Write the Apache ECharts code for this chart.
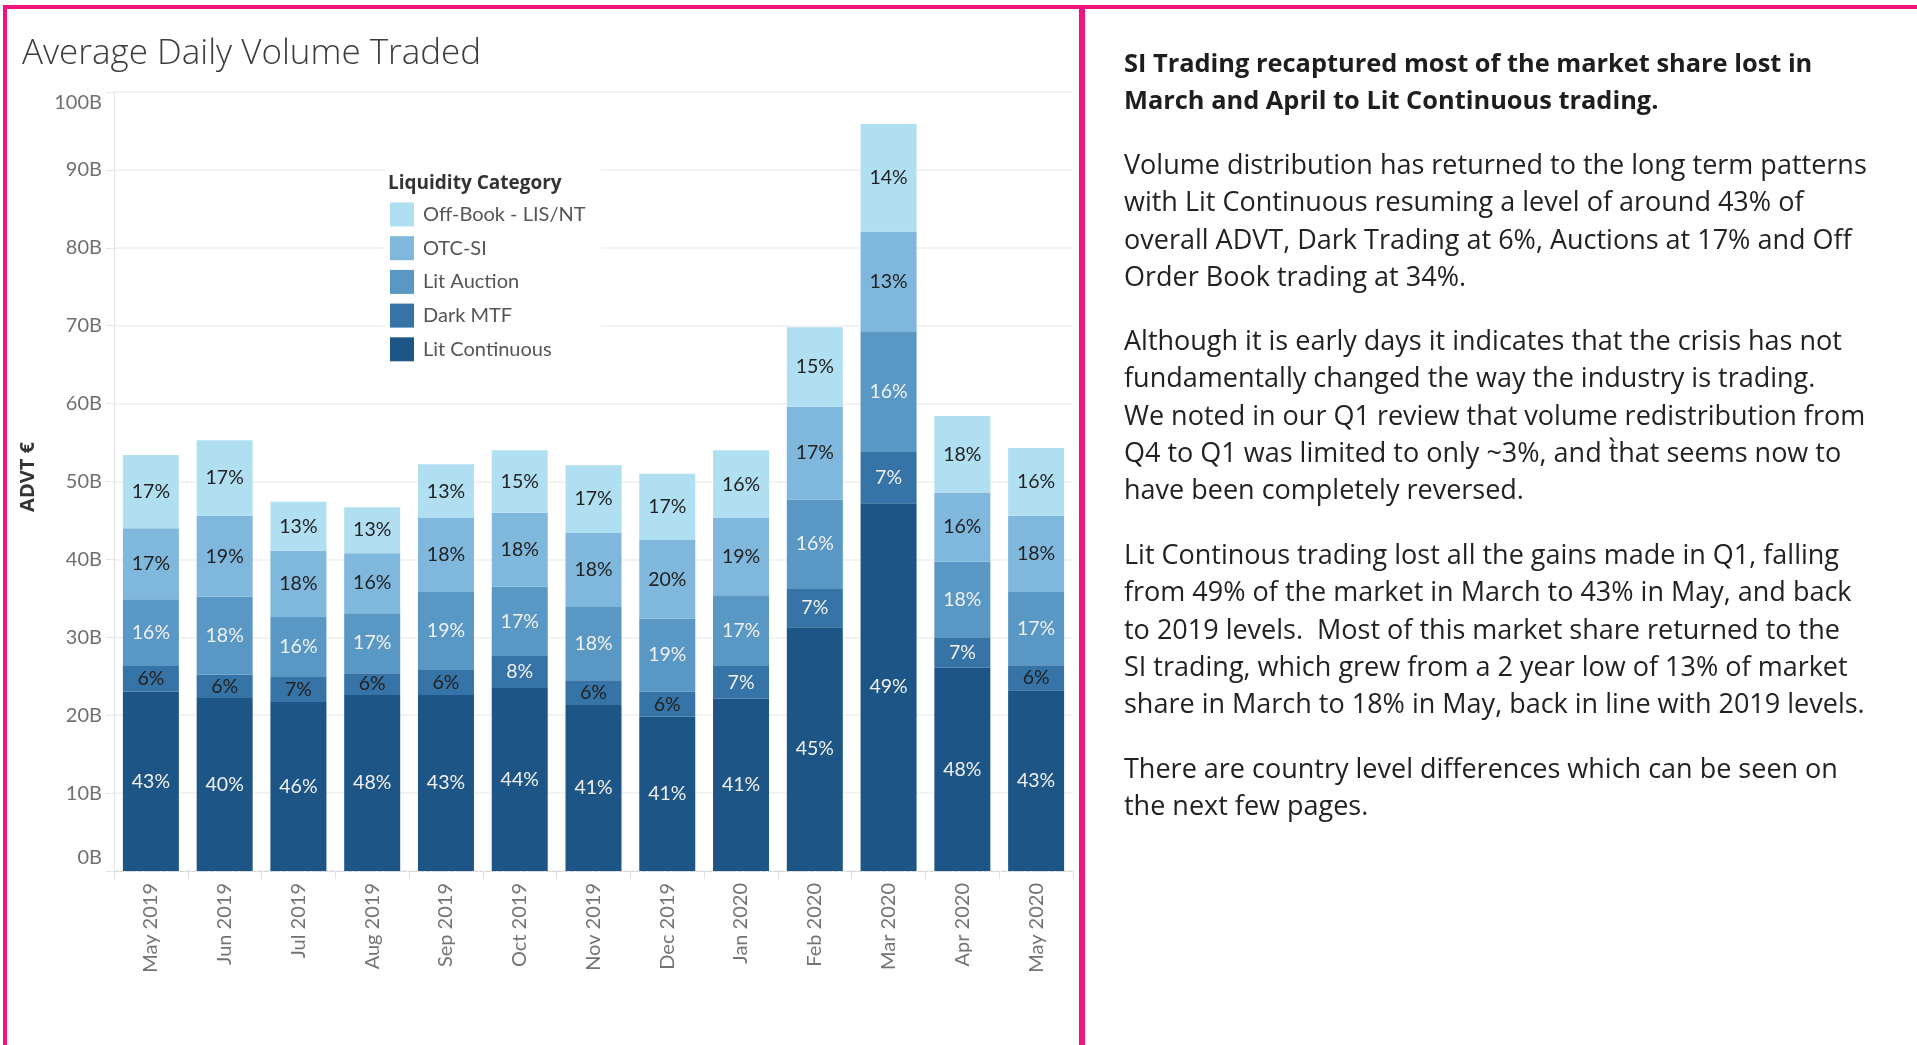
<!DOCTYPE html>
<html><head><meta charset="utf-8">
<script src="https://cdn.jsdelivr.net/npm/echarts@6/dist/echarts.min.js"></script>
<style>html,body{margin:0;padding:0;background:#fff;}#c{width:1917px;height:1045px;}</style>
</head><body><div id="c"></div>
<script>
// ---- data (values in billions EUR, percentages as labelled) ----
const months = ['May 2019','Jun 2019','Jul 2019','Aug 2019','Sep 2019','Oct 2019','Nov 2019','Dec 2019','Jan 2020','Feb 2020','Mar 2020','Apr 2020','May 2020'];
const litContinuous = [23.0, 22.2, 21.7, 22.6, 22.6, 23.5, 21.3, 19.8, 22.1, 31.3, 47.2, 26.1, 23.2];
const darkMTF       = [3.3, 3.0, 3.2, 2.8, 3.2, 4.1, 3.2, 3.2, 4.2, 4.9, 6.6, 3.9, 3.2];
const litAuction    = [8.6, 10.0, 7.7, 7.7, 10.0, 8.9, 9.4, 9.4, 9.1, 11.5, 15.5, 9.7, 9.4];
const otcSI         = [9.1, 10.4, 8.5, 7.7, 9.5, 9.5, 9.5, 10.1, 9.9, 11.9, 12.8, 8.9, 9.8];
const offBook       = [9.4, 9.7, 6.3, 5.9, 6.9, 8.0, 8.7, 8.5, 8.7, 10.2, 13.8, 9.8, 8.7];

const pctLitContinuous = [43, 40, 46, 48, 43, 44, 41, 41, 41, 45, 49, 48, 43];
const pctDarkMTF       = [6, 6, 7, 6, 6, 8, 6, 6, 7, 7, 7, 7, 6];
const pctLitAuction    = [16, 18, 16, 17, 19, 17, 18, 19, 17, 16, 16, 18, 17];
const pctOtcSI         = [17, 19, 18, 16, 18, 18, 18, 20, 19, 17, 13, 16, 18];
const pctOffBook       = [17, 17, 13, 13, 13, 15, 17, 17, 16, 15, 14, 18, 16];

const yTicks = [0, 10, 20, 30, 40, 50, 60, 70, 80, 90, 100];
const categoryNames = ['Lit Continuous', 'Dark MTF', 'Lit Auction', 'OTC-SI', 'Off-Book - LIS/NT'];

const chartTitle = 'Average Daily Volume Traded';
const yAxisTitle = 'ADVT \u20ac';
const legendTitle = 'Liquidity Category';
const heading = 'SI Trading recaptured most of the market share lost in\nMarch and April to Lit Continuous trading.';
const para1 = 'Volume distribution has returned to the long term patterns\nwith Lit Continuous resuming a level of around 43% of\noverall ADVT, Dark Trading at 6%, Auctions at 17% and Off\nOrder Book trading at 34%.';
const para2 = 'Although it is early days it indicates that the crisis has not\nfundamentally changed the way the industry is trading.\nWe noted in our Q1 review that volume redistribution from\nQ4 to Q1 was limited to only ~3%, and t\u0300hat seems now to\nhave been completely reversed.';
const para3 = 'Lit Continous trading lost all the gains made in Q1, falling\nfrom 49% of the market in March to 43% in May, and back\nto 2019 levels.  Most of this market share returned to the\nSI trading, which grew from a 2 year low of 13% of market\nshare in March to 18% in May, back in line with 2019 levels.';
const para4 = 'There are country level differences which can be seen on\nthe next few pages.';

// ---- styling ----
const FONT = 'Lato, "Noto Sans", sans-serif';
const WIDE = '"Open Sans", "Noto Sans", sans-serif';
const colors = ['#1d5686', '#3673a6', '#5997c5', '#7fb7dd', '#b1dff2'];
const PINK = '#f0147c';
const seriesValues = [litContinuous, darkMTF, litAuction, otcSI, offBook];
const seriesPcts = [pctLitContinuous, pctDarkMTF, pctLitAuction, pctOtcSI, pctOffBook];

function labelFormatter(si) {
  return function (p) {
    const pct = seriesPcts[si][p.dataIndex];
    let light;
    if (si === 0 || si === 2) light = true;
    else if (si === 1) light = p.value >= 3.5;
    else light = false;
    return '{' + (light ? 'w' : 'k') + '|' + pct + '%}';
  };
}

const series = categoryNames.map((name, si) => ({
  name: name,
  type: 'bar',
  stack: 'total',
  barWidth: 56,
  data: seriesValues[si],
  itemStyle: { color: colors[si] },
  emphasis: { disabled: true },
  label: {
    show: true,
    position: 'inside',
    formatter: labelFormatter(si),
    rich: {
      w: { color: '#f0f0f0', fontSize: 19.5, fontFamily: FONT },
      k: { color: '#222222', fontSize: 19.5, fontFamily: FONT }
    }
  }
}));

const bodyStyle = { fontFamily: WIDE, fontSize: 27, fill: '#222', lineHeight: 37.3 };

const chart = echarts.init(document.getElementById('c'), null, { renderer: 'canvas' });
chart.setOption({
  animation: false,
  backgroundColor: '#fff',
  title: {
    text: chartTitle, left: 17, top: 31.5,
    textStyle: { fontFamily: WIDE, fontWeight: 300, fontSize: 35, color: '#3c3c3c' }
  },
  grid: { left: 114, right: 844, top: 92, bottom: 174, outerBoundsMode: 'none', containLabel: false },
  legend: {
    data: categoryNames.slice().reverse(),
    orient: 'vertical', left: 390, top: 202.5, padding: 0,
    icon: 'rect', itemWidth: 24, itemHeight: 24, itemGap: 9.7,
    selectedMode: false, z: 5,
    textStyle: { fontFamily: FONT, fontSize: 20, color: '#555', lineHeight: 24, padding: [0, 0, 0, 4] }
  },
  xAxis: {
    type: 'category', data: months,
    axisLine: { show: true, lineStyle: { color: '#d6d6d6', type: 'dashed', width: 1 } },
    axisTick: { show: true, alignWithLabel: false, length: 8, lineStyle: { color: '#e0e0e0' } },
    axisLabel: { rotate: 90, margin: 12, fontFamily: FONT, fontSize: 20, color: '#737373', interval: 0 },
    splitLine: { show: false }
  },
  yAxis: {
    type: 'value', min: 0, max: 100, interval: 10,
    axisLine: { show: true, lineStyle: { color: '#e4e4e4' } },
    axisTick: { show: true, length: 8, lineStyle: { color: '#e4e4e4' } },
    splitLine: { show: true, lineStyle: { color: '#efefef', width: 1.5 } },
    axisLabel: {
      margin: 12, fontFamily: FONT, fontSize: 20, color: '#707070',
      customValues: yTicks,
      formatter: function (v) {
        if (v === 0) return '{lo|0B}';
        if (v === 100) return '{hi|100B}';
        return v + 'B';
      },
      rich: {
        lo: { fontFamily: FONT, fontSize: 20, color: '#707070', padding: [0, 0, 26, 0] },
        hi: { fontFamily: FONT, fontSize: 20, color: '#707070', padding: [22, 0, 0, 0] }
      }
    }
  },
  graphic: [
    // legend background
    { type: 'rect', z: 1, silent: true, shape: { x: 385, y: 150, width: 216, height: 215 }, style: { fill: '#fff' } },
    { type: 'text', z: 6, silent: true, left: 388, top: 174,
      style: { text: legendTitle, fontFamily: WIDE, fontWeight: 'bold', fontSize: 19, fill: '#333' } },
    // y axis title
    { type: 'text', z: 6, silent: true, x: 28, y: 477, rotation: Math.PI / 2,
      style: { text: yAxisTitle, fontFamily: WIDE, fontWeight: 'bold', fontSize: 20, fill: '#333', align: 'center', verticalAlign: 'middle' } },
    // frame lines
    { type: 'rect', z: 10, silent: true, shape: { x: 3, y: 5, width: 1914, height: 4 }, style: { fill: PINK } },
    { type: 'rect', z: 10, silent: true, shape: { x: 3, y: 5, width: 4, height: 1040 }, style: { fill: PINK } },
    { type: 'rect', z: 10, silent: true, shape: { x: 1079, y: 5, width: 6, height: 1040 }, style: { fill: PINK } },
    // commentary
    { type: 'text', z: 6, silent: true, x: 1124, y: 45.8,
      style: Object.assign({}, bodyStyle, { text: heading, fontWeight: 'bold', fontSize: 25.4, fill: '#1e1e1e' }) },
    { type: 'text', z: 6, silent: true, x: 1124, y: 147.6, style: Object.assign({}, bodyStyle, { text: para1 }) },
    { type: 'text', z: 6, silent: true, x: 1124, y: 323.8, style: Object.assign({}, bodyStyle, { text: para2 }) },
    { type: 'text', z: 6, silent: true, x: 1124, y: 537.8, style: Object.assign({}, bodyStyle, { text: para3 }) },
    { type: 'text', z: 6, silent: true, x: 1124, y: 751.7, style: Object.assign({}, bodyStyle, { text: para4 }) }
  ],
  series: series
});
</script>
</body></html>
